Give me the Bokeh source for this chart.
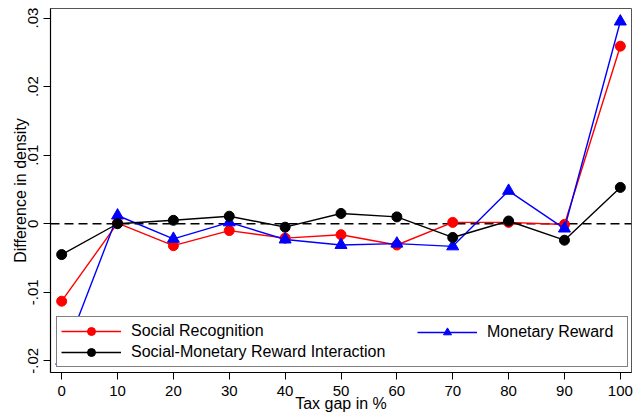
from bokeh.plotting import figure
from bokeh.models import Range1d, FixedTicker, Span, Legend, LegendItem
from bokeh.embed import file_html
from bokeh.resources import INLINE

# ---- data ----
tax_gap = [0, 10, 20, 30, 40, 50, 60, 70, 80, 90, 100]
social_recognition = [-0.0113, 0.0001, -0.0032, -0.0010, -0.0021, -0.0016, -0.0031, 0.0002, 0.0002, -0.0001, 0.0259]
monetary_reward = [-0.0200, 0.0012, -0.0022, 0.0002, -0.0023, -0.0031, -0.0029, -0.0033, 0.0048, -0.0007, 0.0295]
interaction = [-0.0045, 0.0000, 0.0005, 0.0011, -0.0005, 0.0015, 0.0010, -0.0020, 0.0004, -0.0024, 0.0053]

x_ticks = [0, 10, 20, 30, 40, 50, 60, 70, 80, 90, 100]
y_ticks = [-0.02, -0.01, 0.0, 0.01, 0.02, 0.03]
y_tick_labels = ["-.02", "-.01", "0", ".01", ".02", ".03"]

FONT = "Liberation Sans"

p = figure(width=638, height=414,
           x_range=Range1d(-2, 102), y_range=Range1d(-0.0217, 0.0314),
           output_backend="svg", toolbar_location=None,
           min_border_left=50, min_border_right=7, min_border_top=8, min_border_bottom=42,
           background_fill_color="white", border_fill_color="white")

p.grid.visible = False
p.outline_line_color = "#555555"
p.outline_line_width = 1

# axes
p.xaxis.ticker = FixedTicker(ticks=x_ticks)
p.yaxis.ticker = FixedTicker(ticks=y_ticks)
p.yaxis.major_label_overrides = {t: l for t, l in zip(y_ticks, y_tick_labels)}
p.yaxis.major_label_orientation = "vertical"
p.xaxis.axis_label = "Tax gap in %"
p.yaxis.axis_label = "Difference in density"
for ax in (p.xaxis, p.yaxis):
    ax.axis_line_color = "black"
    ax.axis_line_width = 1.2
    ax.major_tick_line_color = "black"
    ax.major_tick_out = 7
    ax.major_tick_in = 0
    ax.minor_tick_line_color = None
    ax.major_label_text_font = FONT
    ax.major_label_text_font_size = "15px"
    ax.major_label_text_color = "black"
    ax.axis_label_text_font = FONT
    ax.axis_label_text_font_size = "16px"
    ax.axis_label_text_font_style = "normal"
    ax.axis_label_text_color = "black"
p.xaxis.major_label_standoff = 6
p.xaxis.axis_label_standoff = -4
p.yaxis.major_label_standoff = 5
p.yaxis.axis_label_standoff = -3

# zero reference line
zero = Span(location=0, dimension="width", line_color="black",
            line_dash="9 5", line_width=1.3, level="underlay")
p.add_layout(zero)

# series
r_line = p.line(tax_gap, social_recognition, line_color="#ff0000", line_width=1.4)
r_pts = p.scatter(tax_gap, social_recognition, marker="circle", size=10,
                  fill_color="#ff0000", line_color="#ff0000")
b_line = p.line(tax_gap, monetary_reward, line_color="#0000ff", line_width=1.4)
b_pts = p.scatter(tax_gap, monetary_reward, marker="triangle", size=12,
                  fill_color="#0000ff", line_color="#0000ff")
k_line = p.line(tax_gap, interaction, line_color="black", line_width=1.4)
k_pts = p.scatter(tax_gap, interaction, marker="circle", size=10,
                  fill_color="black", line_color="black")

# legend: left column with full box, right column overlaid
leg_a = Legend(items=[LegendItem(label="Social Recognition", renderers=[r_line, r_pts]),
                      LegendItem(label="Social-Monetary Reward Interaction", renderers=[k_line, k_pts])],
               location=(6, 5), orientation="vertical",
               padding=4, spacing=1, margin=0,
               glyph_width=60, glyph_height=20, label_standoff=10, label_width=492,
               label_text_font=FONT, label_text_font_size="16px", label_text_color="black",
               border_line_color="black", border_line_width=1,
               background_fill_color="white", background_fill_alpha=1.0)
leg_b = Legend(items=[LegendItem(label="Monetary Reward", renderers=[b_line, b_pts])],
               location=(363, 26), orientation="vertical",
               padding=4, spacing=1, margin=0,
               glyph_width=60, glyph_height=20, label_standoff=10,
               label_text_font=FONT, label_text_font_size="16px", label_text_color="black",
               border_line_alpha=0, background_fill_alpha=0)
p.add_layout(leg_a, "center")
p.add_layout(leg_b, "center")

open("out.html", "w").write(file_html(p, INLINE))
